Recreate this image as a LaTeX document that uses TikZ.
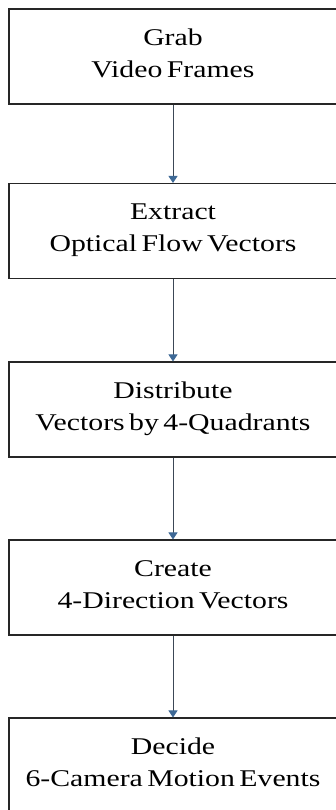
\documentclass[tikz,border=0pt]{standalone}
\usepackage{fontspec}
\setmainfont[FakeStretch=1.24,WordSpace=0.6]{Liberation Serif}
\usepackage{xcolor}
\usetikzlibrary{arrows.meta}
\definecolor{flowblue}{RGB}{62,105,150}
\definecolor{flowline}{RGB}{60,72,86}

\begin{document}
\begin{tikzpicture}[x=1pt,y=-1pt,
    stage/.style={rectangle, draw=black!85, line width=1.1pt, minimum width=328pt, minimum height=95pt, align=center, text depth=6pt, font=\fontsize{24}{32}\selectfont},
    flow/.style={draw=flowline, line width=0.9pt, -{Triangle[width=9pt,length=7pt,color=flowblue]}}]
    \useasboundingbox (0,0) rectangle (336,810);
    \begin{scope}
    \clip (0,0) rectangle (336,810);
    \node[stage] (grab) at (173,56.5) {Grab\\Video Frames};
    \node[stage] (extract) at (173,231) {Extract\\Optical Flow Vectors};
    \node[stage] (distribute) at (173,409.5) {Distribute\\Vectors by 4-Quadrants};
    \node[stage] (create) at (173,587.5) {Create\\4-Direction Vectors};
    \node[stage] (decide) at (173,765.5) {Decide\\6-Camera Motion Events};

    \draw[flow] (grab.south) -- (extract.north);
    \draw[flow] (extract.south) -- (distribute.north);
    \draw[flow] (distribute.south) -- (create.north);
    \draw[flow] (create.south) -- (decide.north);
    \end{scope}
\end{tikzpicture}
\end{document}
